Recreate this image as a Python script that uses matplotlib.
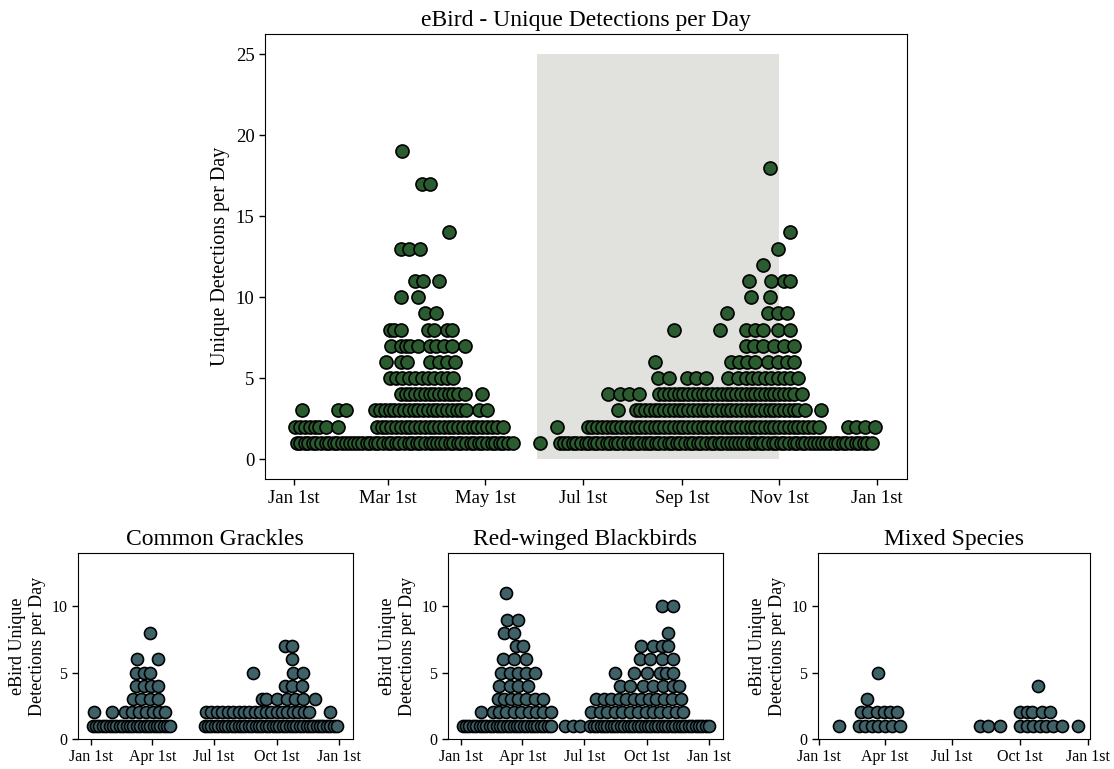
import numpy as np
from matplotlib import pyplot as plt

plt.rcParams['font.family'] = ['Liberation Serif', 'DejaVu Serif']

# month ticks as day of year
main_tick_days = [0, 59, 120, 181, 243, 304, 365]
main_tick_labels = ['Jan 1st', 'Mar 1st', 'May 1st', 'Jul 1st', 'Sep 1st', 'Nov 1st', 'Jan 1st']
sub_tick_days = [0, 90, 181, 273, 365]
sub_tick_labels = ['Jan 1st', 'Apr 1st', 'Jul 1st', 'Oct 1st', 'Jan 1st']

# shaded season window (Jun 1st - Nov 1st), height of the band
season_days = [152, 304]
season_top = 25

# eBird detections, all species:  count -> days of year
all_rows = {
    1: [2, 4, 7, 9, 12, 14, 17, 20, 22, 25, 27, 30, 33, 35, 38, 40, 43, 46, 48, 51, 53, 56,
        59, 61, 64, 66, 69, 72, 74, 77, 79, 82, 85, 87, 90, 92, 95, 98, 100, 103, 105, 108,
        111, 113, 116, 118, 121, 124, 126, 129, 131, 134, 137, 154,
        167, 169, 172, 175, 177, 180, 183, 185, 188, 190, 193, 196, 198, 201, 203, 206, 209,
        211, 214, 216, 219, 222, 224, 227, 229, 232, 235, 237, 240, 242, 245, 248, 250, 253,
        255, 258, 261, 263, 266, 268, 271, 274, 276, 279, 281, 284, 287, 289, 292, 294, 297,
        300, 302, 305, 307, 310, 313, 315, 318, 320, 323, 326, 328, 331, 333, 336, 339, 341,
        344, 346, 349, 352, 354, 357, 359, 362],
    2: [1, 4, 7, 10, 13, 16, 20, 28,
        52, 55, 58, 61, 64, 67, 70, 73, 76, 79, 82, 85, 88, 91, 94, 97, 100, 103, 106, 109,
        112, 115, 118, 121, 124, 127, 131, 165,
        184, 187, 190, 193, 196, 199, 202, 205, 208, 211, 214, 217, 220, 223, 226, 229, 232,
        235, 238, 241, 244, 247, 250, 253, 256, 259, 262, 265, 268, 271, 274, 277, 280, 283,
        286, 289, 292, 295, 298, 301, 304, 307, 310, 313, 316, 319, 322, 325, 329,
        347, 352, 358, 364],
    3: [5, 28, 33,
        51, 54, 57, 60, 63, 66, 69, 72, 75, 78, 81, 84, 87, 90, 93, 96, 99, 102, 105, 108,
        116, 121, 203,
        214, 217, 220, 223, 226, 229, 232, 235, 238, 241, 244, 247, 250, 253, 256, 259, 262,
        265, 268, 271, 274, 277, 280, 283, 286, 289, 292, 295, 298, 301, 304, 307, 310, 313,
        316, 320, 330],
    4: [67, 70, 73, 76, 79, 82, 85, 88, 91, 94, 97, 100, 103, 107, 118,
        197, 204, 210, 216,
        229, 232, 235, 238, 241, 244, 247, 250, 253, 256, 259, 262, 265, 268, 271, 274, 277,
        280, 283, 286, 289, 292, 295, 298, 301, 304, 307, 310, 313, 318],
    5: [60, 64, 68, 72, 76, 80, 84, 88, 92, 96, 100,
        228, 235, 246, 252, 258, 272, 278, 283, 287, 291, 295, 299, 303, 307, 311, 316],
    6: [58, 67, 71, 85, 91, 96, 101, 226, 274, 279, 284, 289, 297, 303, 309, 313],
    7: [61, 67, 70, 73, 78, 85, 89, 94, 99, 107, 283, 288, 294, 301, 307, 313],
    8: [60, 63, 67, 84, 88, 96, 99, 238, 267, 283, 289, 294, 303, 311],
    9: [82, 89, 271, 297, 303, 309],
    10: [67, 78, 286, 298],
    11: [76, 81, 91, 285, 299, 307, 311],
    12: [294],
    13: [67, 72, 79, 303],
    14: [97, 311],
    17: [80, 85],
    18: [298],
    19: [68],
}

grackle_rows = {
    1: [2, 7, 12, 17, 22, 27, 32, 37, 42, 47, 52, 57, 62, 67, 72, 77, 82, 87, 92, 97, 102,
        107, 112, 116,
        167, 172, 177, 182, 187, 192, 197, 202, 207, 212, 217, 222, 227, 232, 237, 242, 247,
        252, 257, 262, 267, 272, 277, 282, 287, 292, 297, 302, 307, 312, 317, 322, 327, 332,
        337, 342, 347, 352, 357, 362],
    2: [4, 31, 50, 60, 70, 81, 91, 100, 109,
        169, 177, 185, 193, 201, 209, 217, 225, 233, 241, 249, 257, 265, 273, 281, 289, 297,
        305, 313, 320, 351],
    3: [61, 73, 86, 99, 251, 258, 273, 288, 300, 312, 329],
    4: [66, 78, 88, 99, 285, 296, 310],
    5: [66, 78, 86, 238, 297, 312],
    6: [67, 98, 295],
    7: [285, 296],
    8: [86],
}

blackbird_rows = {
    1: [2, 7, 12, 17, 22, 27, 32, 37, 42, 47, 52, 57, 62, 67, 72, 77, 82, 87, 92, 97, 102,
        107, 112, 117, 122, 127, 132, 153, 165, 175,
        190, 195, 200, 205, 210, 215, 220, 225, 230, 235, 240, 245, 250, 255, 260, 265, 270,
        275, 280, 285, 290, 295, 300, 305, 310, 315, 320, 325, 330, 335, 340, 345, 350, 355,
        360, 364],
    2: [29, 46, 56, 66, 77, 88, 99, 110, 120, 132,
        191, 204, 215, 226, 237, 248, 260, 272, 283, 293, 305, 316, 327],
    3: [54, 63, 73, 83, 95, 108, 120,
        199, 210, 221, 232, 243, 254, 265, 277, 287, 298, 310, 324],
    4: [56, 71, 83, 98, 233, 248, 268, 283, 297, 312, 320],
    5: [59, 71, 83, 95, 108, 226, 255, 273, 292, 302, 312],
    6: [61, 77, 96, 263, 278, 295, 312],
    7: [81, 91, 265, 283, 295, 305],
    8: [63, 78, 304],
    9: [68, 84],
    10: [295, 312],
    11: [66],
}

mixed_rows = {
    1: [28, 54, 63, 72, 81, 90, 99, 110, 219, 230, 246, 273, 282, 291, 300, 309, 318, 330, 352],
    2: [57, 67, 79, 88, 97, 106, 273, 282, 290, 303, 314],
    3: [65],
    4: [298],
    5: [80],
}

sub_titles = ['Common Grackles', 'Red-winged Blackbirds', 'Mixed Species']
sub_xlims = [(-20, 385), (-20, 385), (-1.5, 368)]

MAIN_COLOR = '#2b5c30'
SUB_COLOR = '#3f6168'
SEASON_COLOR = '#e1e1dd'


def flatten(rows):
    xs, ys = [], []
    for count, days in rows.items():
        xs += days
        ys += [count] * len(days)
    return np.array(xs), np.array(ys)


fig = plt.figure(figsize=(11.14, 7.69), dpi=100)

# main panel
ax = fig.add_axes([0.2379, 0.3767, 0.5763, 0.5791])
ax.fill_between(season_days, 0, season_top, color=SEASON_COLOR, lw=0, zorder=0)
x, y = flatten(all_rows)
ax.scatter(x, y, s=88, c=MAIN_COLOR, edgecolors='black', linewidths=1.2, zorder=2)
ax.set_xlim(-18, 384)
ax.set_ylim(-1.25, 26.25)
ax.set_xticks(main_tick_days)
ax.set_xticklabels(main_tick_labels)
ax.set_yticks([0, 5, 10, 15, 20, 25])
ax.tick_params(labelsize=13.5, length=4, width=1)
ax.set_ylabel('Unique Detections per Day', fontsize=14.5)
ax.set_title('eBird - Unique Detections per Day', fontsize=17)

# species panels
sub_lefts = [0.0697, 0.4019, 0.7340]
sub_widths = [0.2469, 0.2469, 0.2444]
for i, rows in enumerate([grackle_rows, blackbird_rows, mixed_rows]):
    sub = fig.add_axes([sub_lefts[i], 0.0390, sub_widths[i], 0.2415])
    x, y = flatten(rows)
    sub.scatter(x, y, s=75, c=SUB_COLOR, edgecolors='black', linewidths=1.2, zorder=2)
    sub.set_xlim(*sub_xlims[i])
    sub.set_ylim(0, 14)
    sub.set_xticks(sub_tick_days)
    sub.set_xticklabels(sub_tick_labels)
    sub.set_yticks([0, 5, 10])
    sub.tick_params(labelsize=11.5, length=4, width=1)
    sub.set_ylabel('eBird Unique\nDetections per Day', fontsize=13)
    sub.set_title(sub_titles[i], fontsize=17)

fig.savefig('out.png', dpi=100)
